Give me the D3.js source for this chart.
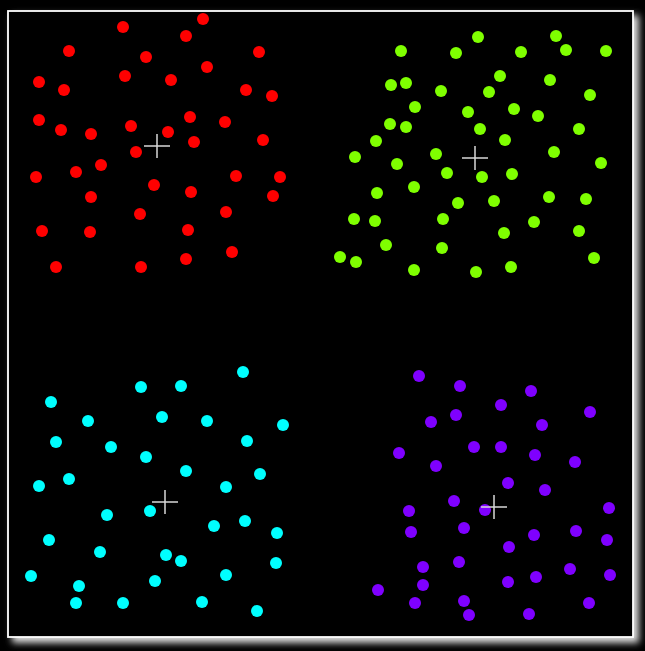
<!DOCTYPE html>
<html>
<head>
<meta charset="utf-8">
<script src="https://cdn.jsdelivr.net/npm/d3@7"></script>
<style>
html,body{margin:0;padding:0;background:#000;overflow:hidden;}
svg{display:block;}
</style>
</head>
<body>
<script>
// Cluster data (chart units: 0..625 horizontally, 0..626 vertically, origin top-left)
const clusterNames = ["A", "B", "C", "D"];
const clusterColors = ["#ff0000", "#7fff00", "#00ffff", "#7f00ff"];

const redX = [115,195,178,61,138,251,199,117,163,31,56,238,264,31,182,217,53,83,123,160,186,255,128,93,68,28,228,272,146,183,83,265,132,218,34,82,180,224,48,133,178];
const redY = [16,8,25,40,46,41,56,65,69,71,79,79,85,109,106,111,119,123,115,121,131,129,141,154,161,166,165,166,174,181,186,185,203,201,220,221,219,241,256,256,248];

const greenX = [470,548,393,448,513,558,598,492,542,383,398,433,481,582,407,460,506,530,382,398,472,571,368,497,347,428,546,593,389,439,474,504,369,406,450,486,541,578,346,367,435,526,496,571,378,434,332,348,406,468,503,586];
const greenY = [26,25,40,42,41,39,40,65,69,74,72,80,81,84,96,101,98,105,113,116,118,118,130,129,146,143,141,152,153,162,166,163,182,176,192,190,186,188,208,210,208,211,222,220,234,237,246,251,259,261,256,247];

const cyanX = [235,133,173,43,80,154,199,275,48,103,138,239,178,252,31,61,218,99,142,206,237,269,41,92,158,173,268,23,218,71,147,68,115,194,249];
const cyanY = [361,376,375,391,410,406,410,414,431,436,446,430,460,463,475,468,476,504,500,515,510,522,529,541,544,550,552,565,564,575,570,592,592,591,600];

const purpleX = [411,452,523,493,448,423,582,534,391,466,493,527,428,567,500,537,446,401,477,601,403,456,526,568,599,501,415,451,562,602,370,415,500,528,407,456,461,521,581];
const purpleY = [365,375,380,394,404,411,401,414,442,436,436,444,455,451,472,479,490,500,499,497,521,517,524,520,529,536,556,551,558,564,579,574,571,566,592,590,604,603,592];

// Cluster centres (crosses)
const centerX = [149,467,157,486];
const centerY = [135,147,491,496];

const W = 645, H = 651;
const frame = {x: 8, y: 11, w: 625, h: 626};

const svg = d3.select("body").append("svg").attr("width", W).attr("height", H);

const defs = svg.append("defs");
const f = defs.append("filter").attr("id", "glow")
  .attr("x", "-5%").attr("y", "-5%").attr("width", "115%").attr("height", "115%");
f.append("feDropShadow").attr("dx", 5).attr("dy", 5).attr("stdDeviation", 3.5)
  .attr("flood-color", "#e0e0e0").attr("flood-opacity", 1);

svg.append("rect").attr("width", W).attr("height", H).attr("fill", "#000");

svg.append("rect")
  .attr("x", frame.x).attr("y", frame.y).attr("width", frame.w).attr("height", frame.h)
  .attr("fill", "#000").attr("stroke", "#fff").attr("stroke-width", 1.8)
  .attr("filter", "url(#glow)");

const x = d3.scaleLinear().domain([0, 625]).range([frame.x, frame.x + frame.w]);
const y = d3.scaleLinear().domain([0, 626]).range([frame.y, frame.y + frame.h]);

const sets = [[redX, redY], [greenX, greenY], [cyanX, cyanY], [purpleX, purpleY]];
const points = [];
sets.forEach((s, ci) => s[0].forEach((vx, i) => points.push({c: ci, x: vx, y: s[1][i]})));

svg.append("g").selectAll("circle").data(points).join("circle")
  .attr("cx", d => x(d.x)).attr("cy", d => y(d.y)).attr("r", 6)
  .attr("fill", d => clusterColors[d.c]);

const centers = clusterNames.map((n, i) => ({name: n, x: centerX[i], y: centerY[i]}));
const cg = svg.append("g").selectAll("g").data(centers).join("g")
  .attr("transform", d => `translate(${x(d.x)},${y(d.y)})`);
cg.append("line").attr("x1", -13).attr("x2", 13).attr("y1", 0).attr("y2", 0)
  .attr("stroke", "#d8d8d8").attr("stroke-width", 1.5);
cg.append("line").attr("x1", 0).attr("x2", 0).attr("y1", -12).attr("y2", 12)
  .attr("stroke", "#d8d8d8").attr("stroke-width", 1.5);
</script>
</body>
</html>
